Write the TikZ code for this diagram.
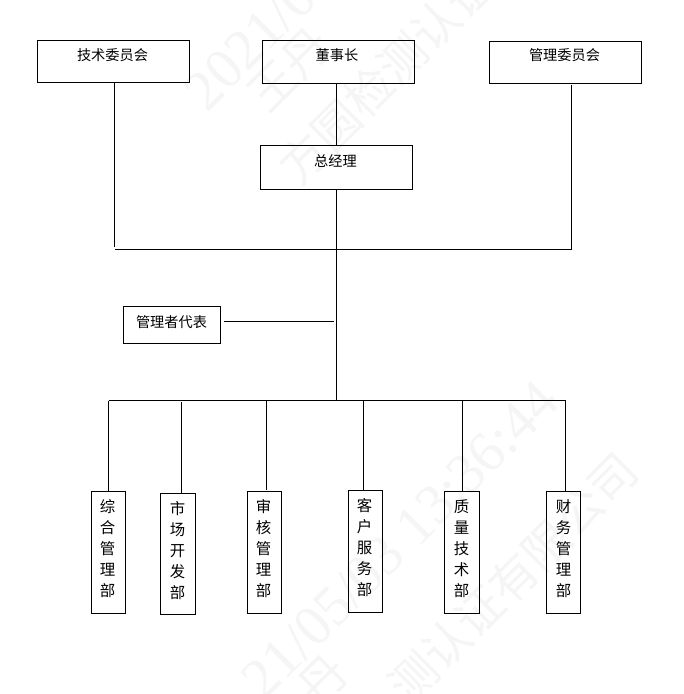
\documentclass[tikz,border=0pt]{standalone}
\usepackage{fontspec}
\setmainfont{Noto Sans CJK SC}
\newfontfamily\wmserif{Liberation Serif}
\definecolor{wm}{RGB}{245,245,245}
\tikzset{
 x=1pt,y=-1pt,
 box/.style={draw=black,line width=0.95pt,fill=none,inner sep=0pt,outer sep=0pt},
 lab/.style={font=\fontsize{14.2pt}{15pt}\selectfont,inner sep=0pt},
 vlab/.style={font=\fontsize{15.4pt}{21pt}\selectfont,inner sep=0pt,align=center},
 conn/.style={draw=black,line width=0.95pt},
 wmd/.style={font=\fontsize{57pt}{57pt}\selectfont\wmserif,text=wm,rotate=45,inner sep=0pt},
 wmc/.style={font=\fontsize{47pt}{47pt}\selectfont,text=wm,rotate=45,inner sep=0pt}
}
\begin{document}
\begin{tikzpicture}
\useasboundingbox (0,0) rectangle (684,694);
\fill[white] (0,0) rectangle (684,694);
% watermark
\node[wmd,anchor=west] (w1) at (194,100) {2021/05/03};
\node[wmc] (w2) at (290,70) {王丹};
\node[wmc,anchor=center] (w3) at (386,75) {方圆检测认证};
\node[wmd,anchor=center] (w4) at (400,540) {21/05/03 13:36:44};
\node[wmc,anchor=center] (w5) at (513,578) {测认证有限公司};
\node[wmc] (w6) at (323,680) {丹};
% boxes
\newcommand{\boxnode}[5]{\node[box,minimum width=#4-#2,minimum height=#5-#3,anchor=north west] (#1) at (#2,#3) {};}
\boxnode{tech}{37}{40}{189}{82}
\boxnode{chair}{262.5}{40.5}{414.5}{83}
\boxnode{mgmt}{489.5}{41}{641.5}{83}
\boxnode{gm}{260.5}{145.5}{412.5}{189}
\boxnode{rep}{123.5}{306.5}{220.5}{343.5}
\boxnode{d1}{91.5}{491}{125.5}{613}
\boxnode{d2}{160.5}{493}{195}{614}
\boxnode{d3}{247.5}{491.5}{281.5}{613.5}
\boxnode{d4}{348.5}{490.5}{382.5}{612.5}
\boxnode{d5}{444.5}{491.5}{479.5}{613.5}
\boxnode{d6}{546.5}{491.5}{580.5}{613.5}
% labels
\node[lab] (ltech) at (112.5,55) {技术委员会};
\node[lab] (lchair) at (337,55.5) {董事长};
\node[lab] (lmgmt) at (564.5,55) {管理委员会};
\node[lab] (lgm) at (335.5,161.5) {总经理};
\node[lab] (lrep) at (171.5,322) {管理者代表};
\node[vlab] (l1) at (107.5,548.5) {综\\合\\管\\理\\部};
\node[vlab] (l2) at (177.5,550.5) {市\\场\\开\\发\\部};
\node[vlab] (l3) at (263.5,548.5) {审\\核\\管\\理\\部};
\node[vlab] (l4) at (364.5,547.5) {客\\户\\服\\务\\部};
\node[vlab] (l5) at (461.5,548.5) {质\\量\\技\\术\\部};
\node[vlab] (l6) at (563.5,548.5) {财\\务\\管\\理\\部};
% junctions
\coordinate (jt) at (336.5,249);
\coordinate (jb) at (336.5,400.5);
\coordinate (hl) at (115,249);
\coordinate (hr) at (572,249);
\coordinate (bl) at (108.5,400.5);
\coordinate (br) at (565.5,400.5);
\coordinate (repend) at (334,321);
\coordinate (repstart) at (224,321);
% connectors
\draw[conn] (chair.south -| jt) -- (gm.north -| jt);
\draw[conn] (gm.south -| jt) -- (jb);
\draw[conn] (tech.south -| 114.5,0) -- (114.5,247);
\draw[conn] (571.5,85) -- (571.5,249);
\draw[conn] (hl) -- (hr);
\draw[conn] (bl) -- (br);
\draw[conn] (repstart) -- (repend);
\draw[conn] (bl) -- (d1.north -| bl);
\draw[conn] (181.5,402) -- (d2.north -| 181.5,0);
\draw[conn] (266.5,401) -- (266.5,490);
\draw[conn] (363.5,401) -- (d4.north -| 363.5,0);
\draw[conn] (462.5,401) -- (d5.north -| 462.5,0);
\draw[conn] (br) -- (d6.north -| br);
\end{tikzpicture}
\end{document}
